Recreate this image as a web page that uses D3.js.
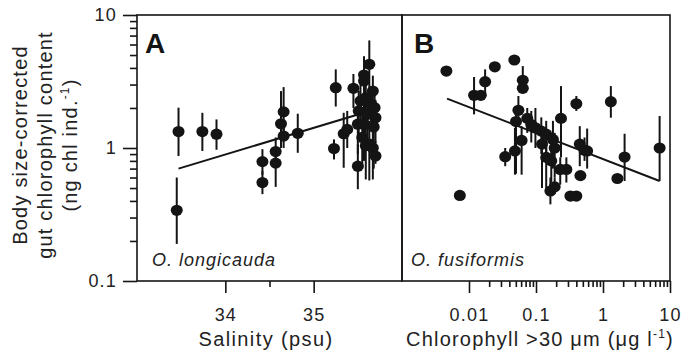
<!DOCTYPE html>
<html><head><meta charset="utf-8">
<script src="https://cdn.jsdelivr.net/npm/d3@7"></script>
<style>
body{margin:0;background:#fff}
svg{display:block;font-family:"Liberation Sans",Arial,Helvetica,sans-serif}
</style>
</head><body>
<svg id="c" width="683" height="354"></svg>
<script>
// ---- Panel A: salinity vs gut chlorophyll ----
const salinity = [33.47,33.45,33.74,33.90,34.42,34.42,34.57,34.57,34.63,34.66,34.66,34.82,35.25,35.23,35.34,35.38,35.50,35.63,35.57,35.45,35.57,35.67,35.53,35.65,35.51,35.69,35.70,35.50,35.57,35.68,35.59,35.67,35.70,35.59,35.61,35.63,35.55];
const gutA     = [1.33,0.34,1.33,1.27,0.79,0.55,0.94,0.77,1.52,1.87,1.23,1.29,2.84,0.99,1.28,1.38,0.73,4.26,3.54,2.81,3.19,2.68,2.26,2.13,1.90,2.01,1.69,1.51,1.51,1.44,1.04,1.00,0.87,2.39,1.79,1.07,1.20];
const loA      = [0.87,0.19,0.95,0.97,0.63,0.45,0.84,0.51,1.00,1.13,1.00,0.92,2.05,0.82,0.71,1.00,0.49,2.84,2.25,2.00,2.20,1.80,1.50,1.40,1.20,1.40,1.10,0.90,0.80,0.70,0.58,0.58,0.76,1.60,1.00,0.57,0.70];
const hiA      = [2.01,0.60,1.84,1.64,0.98,0.67,1.20,1.00,2.68,2.87,1.60,1.81,3.90,1.16,1.84,1.90,1.07,6.44,4.90,3.60,4.30,3.50,3.00,2.90,2.70,2.70,2.30,2.20,2.20,2.00,1.50,1.40,1.13,3.20,2.50,1.60,1.80];
const fitAx = [33.47, 35.53];
const fitAy = [0.70, 1.81];

// ---- Panel B: chlorophyll >30 um vs gut chlorophyll ----
const chlB = [0.0046,0.0073,0.0119,0.0150,0.0174,0.0243,0.0475,0.0635,0.0635,0.0546,0.0503,0.074,0.0347,0.0485,0.061,0.098,0.12,0.142,0.123,0.179,0.19,0.236,0.142,0.169,0.164,0.19,0.23,0.284,0.326,0.40,0.40,0.45,0.53,0.58,0.46,1.31,2.1,1.64,7.0,0.085];
const gutB = [3.79,0.44,2.49,2.49,3.15,4.08,4.59,3.23,2.81,1.92,1.58,1.67,0.86,0.95,1.14,1.42,1.34,1.27,1.07,1.16,1.00,1.67,0.85,0.80,0.475,0.51,0.69,0.69,0.435,0.435,2.15,1.07,0.96,0.95,0.62,2.23,0.855,0.59,1.00,1.50];
const loB  = [null,null,1.79,null,2.53,null,null,2.81,null,1.50,0.64,1.30,0.73,0.63,0.63,1.00,0.90,0.80,0.50,0.70,0.60,0.85,0.50,0.55,0.377,0.45,0.53,0.55,null,null,1.90,0.73,0.80,0.70,null,1.69,0.565,null,0.565,1.10];
const hiB  = [null,null,3.42,null,3.90,null,null,4.13,null,2.46,1.95,2.00,1.00,1.42,1.46,2.00,1.70,1.60,1.30,1.60,1.30,2.92,1.10,1.10,0.60,0.60,0.85,0.85,null,null,2.46,1.46,1.20,1.40,null,2.92,1.28,null,1.74,1.90];
const fitBx = [0.0047, 7.0];
const fitBy = [2.35, 0.565];

// ---- ticks ----
const yTicks = [0.1, 1, 10];
const salTicks = [34, 35];
const salMinor = [34.5];
const chlTicks = [0.01, 0.1, 1, 10];

const svg = d3.select("#c");
const pTop = 15, pBottom = 281, leftA = 137, mid = 402, rightB = 670;
const ink = "#141414";

const y = d3.scaleLog().domain([0.1, 10]).range([pBottom, pTop]);
const xA = d3.scaleLinear().domain([33, 36]).range([leftA, mid]);
const xB = d3.scaleLog().domain([0.001, 10]).range([mid, rightB]);

const minorOf = (decs) => decs.flatMap(d => d3.range(2, 10).map(k => k * d));
const yMinor = minorOf([0.1, 1]);
const chlMinor = minorOf([0.01, 0.1, 1]);

function styleAxis(g){
  g.select(".domain").remove();
  g.selectAll("line").attr("stroke", ink).attr("stroke-width", 1.6);
  g.selectAll("text").attr("fill", "#222").attr("font-size", 18).attr("letter-spacing", 1.2)
    .attr("font-family", '"Liberation Sans",Arial,sans-serif');
}

// Y axis
svg.append("g").attr("transform", `translate(${leftA},0)`)
  .call(d3.axisLeft(y).tickValues(yMinor).tickSize(7).tickFormat(""))
  .call(styleAxis);
svg.append("g").attr("transform", `translate(${leftA},0)`)
  .call(d3.axisLeft(y).tickValues(yTicks).tickSize(14).tickPadding(6).tickFormat(d3.format("~g")))
  .call(styleAxis);

// X axis A
svg.append("g").attr("transform", `translate(0,${pBottom})`)
  .call(d3.axisBottom(xA).tickValues(salMinor).tickSize(6).tickFormat(""))
  .call(styleAxis);
svg.append("g").attr("transform", `translate(0,${pBottom})`)
  .call(d3.axisBottom(xA).tickValues(salTicks).tickSize(12).tickPadding(15).tickFormat(d3.format("d")))
  .call(styleAxis);

// X axis B
svg.append("g").attr("transform", `translate(0,${pBottom})`)
  .call(d3.axisBottom(xB).tickValues(chlMinor).tickSize(6).tickFormat(""))
  .call(styleAxis);
svg.append("g").attr("transform", `translate(0,${pBottom})`)
  .call(d3.axisBottom(xB).tickValues(chlTicks).tickSize(12).tickPadding(15).tickFormat(d3.format("~g")))
  .call(styleAxis);

// frames
svg.append("rect").attr("x", leftA).attr("y", pTop).attr("width", mid - leftA).attr("height", pBottom - pTop)
  .attr("fill", "none").attr("stroke", ink).attr("stroke-width", 1.6);
svg.append("rect").attr("x", mid).attr("y", pTop).attr("width", rightB - mid).attr("height", pBottom - pTop)
  .attr("fill", "none").attr("stroke", ink).attr("stroke-width", 1.6);

function panel(xs, xScale, vals, lo, hi, fx, fy){
  const g = svg.append("g");
  const idx = d3.range(xs.length);
  g.selectAll("line.err").data(idx.filter(i => lo[i] != null)).join("line")
    .attr("class", "err")
    .attr("x1", i => xScale(xs[i])).attr("x2", i => xScale(xs[i]))
    .attr("y1", i => y(lo[i])).attr("y2", i => y(hi[i]))
    .attr("stroke", ink).attr("stroke-width", 2);
  g.append("line")
    .attr("x1", xScale(fx[0])).attr("y1", y(fy[0]))
    .attr("x2", xScale(fx[1])).attr("y2", y(fy[1]))
    .attr("stroke", ink).attr("stroke-width", 2);
  g.selectAll("ellipse").data(idx).join("ellipse")
    .attr("cx", i => xScale(xs[i])).attr("cy", i => y(vals[i]))
    .attr("rx", 6).attr("ry", 5.6).attr("fill", ink);
}
panel(salinity, xA, gutA, loA, hiA, fitAx, fitAy);
panel(chlB, xB, gutB, loB, hiB, fitBx, fitBy);

// panel letters
svg.append("text").attr("x", 145).attr("y", 53).text("A")
  .attr("font-size", 28).attr("font-weight", "bold").attr("fill", ink);
svg.append("text").attr("x", 414).attr("y", 53).text("B")
  .attr("font-size", 28).attr("font-weight", "bold").attr("fill", ink);

// species
svg.append("text").attr("x", 152).attr("y", 266).text("O. longicauda")
  .attr("font-size", 18).attr("font-style", "italic").attr("letter-spacing", 1).attr("fill", "#222");
svg.append("text").attr("x", 411).attr("y", 266).text("O. fusiformis")
  .attr("font-size", 18).attr("font-style", "italic").attr("letter-spacing", 1).attr("fill", "#222");

// x titles
svg.append("text").attr("x", 266).attr("y", 346).attr("text-anchor", "middle")
  .attr("font-size", 20).attr("letter-spacing", 1.4).attr("fill", "#222").text("Salinity (psu)");
const tB = svg.append("text").attr("x", 540).attr("y", 346).attr("text-anchor", "middle")
  .attr("font-size", 20).attr("letter-spacing", 1.2).attr("fill", "#222");
tB.append("tspan").text("Chlorophyll >30 μm (μg l");
tB.append("tspan").attr("font-size", 12).attr("dy", -8).text("-1");
tB.append("tspan").attr("dy", 8).text(")");

// y title
const yl = svg.append("g").attr("transform", "translate(0,145) rotate(-90)");
const ylines = ["Body size-corrected", "gut chlorophyll content"];
const ybase = [27, 52, 77];
ylines.forEach((s, i) => {
  yl.append("text").attr("x", 0).attr("y", ybase[i]).attr("text-anchor", "middle")
    .attr("font-size", 20).attr("letter-spacing", 1.2).attr("fill", "#222").text(s);
});
const t3 = yl.append("text").attr("x", 0).attr("y", ybase[2]).attr("text-anchor", "middle")
  .attr("font-size", 20).attr("letter-spacing", 1.2).attr("fill", "#222");
t3.append("tspan").text("(ng chl ind.");
t3.append("tspan").attr("font-size", 12).attr("dy", -8).text("-1");
t3.append("tspan").attr("dy", 8).text(")");
</script>
</body></html>
